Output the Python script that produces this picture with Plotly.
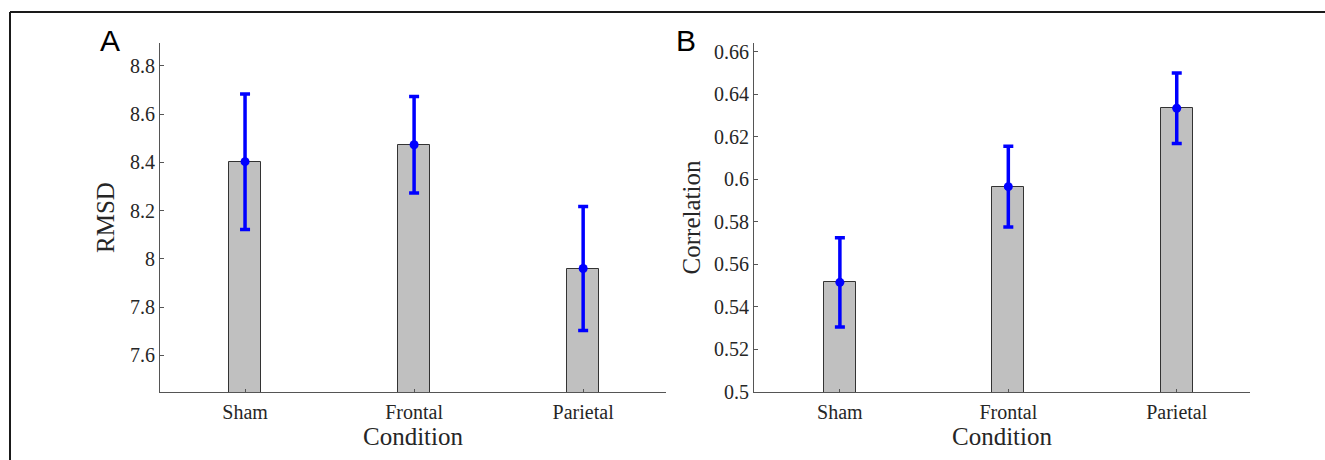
import plotly.graph_objects as go

conditions = ["Sham", "Frontal", "Parietal"]

rmsd_mean = [8.403, 8.473, 7.960]
rmsd_err = [0.281, 0.200, 0.257]

corr_mean = [0.5516, 0.5966, 0.6335]
corr_err = [0.0210, 0.0190, 0.0166]

rmsd_ticks = [7.6, 7.8, 8.0, 8.2, 8.4, 8.6, 8.8]
rmsd_ticktext = ["7.6", "7.8", "8", "8.2", "8.4", "8.6", "8.8"]
corr_ticks = [0.5, 0.52, 0.54, 0.56, 0.58, 0.6, 0.62, 0.64, 0.66]
corr_ticktext = ["0.5", "0.52", "0.54", "0.56", "0.58", "0.6", "0.62", "0.64", "0.66"]

W, H = 1325, 460
SERIF = "Liberation Serif, Times New Roman, serif"
AXC = "#555555"
TXT = "#262626"
BLUE = "#0000ff"

fig = go.Figure()

def add_panel(xa, ya, means, errs):
    fig.add_trace(go.Bar(
        x=conditions, y=means, width=0.19,
        marker=dict(color="#c0c0c0", line=dict(color="#333333", width=1)),
        xaxis=xa, yaxis=ya, showlegend=False,
    ))
    fig.add_trace(go.Scatter(
        x=conditions, y=means, mode="markers",
        marker=dict(color=BLUE, size=9, symbol="circle"),
        error_y=dict(type="data", array=errs, visible=True, color=BLUE, thickness=3.5, width=5),
        xaxis=xa, yaxis=ya, showlegend=False,
    ))

add_panel("x", "y", rmsd_mean, rmsd_err)
add_panel("x2", "y2", corr_mean, corr_err)

y_dom = [(H - 392) / H, (H - 43) / H]

common_x = dict(
    showline=True, linecolor=AXC, linewidth=1, ticks="inside", ticklen=3, tickcolor=AXC,
    tickfont=dict(family=SERIF, size=20, color=TXT), showgrid=False, zeroline=False,
    title=dict(text="Condition", font=dict(family=SERIF, size=25, color=TXT), standoff=4),
    fixedrange=True, automargin=False, ticklabelstandoff=2,
)
common_y = dict(
    showline=True, linecolor=AXC, linewidth=1, ticks="inside", ticklen=4, tickcolor=AXC,
    tickfont=dict(family=SERIF, size=20, color=TXT), showgrid=False, zeroline=False,
    domain=y_dom, automargin=False,
)

fig.update_layout(
    width=W, height=H, margin=dict(l=0, r=0, t=0, b=0, autoexpand=False),
    paper_bgcolor="white", plot_bgcolor="white",
    bargap=0,
    xaxis=dict(common_x, domain=[160 / W, 666 / W], range=[-0.503, 2.49], anchor="y"),
    yaxis=dict(common_y, range=[7.448, 8.895], tickvals=rmsd_ticks, ticktext=rmsd_ticktext,
               anchor="x",
               title=dict(text="RMSD", font=dict(family=SERIF, size=25, color=TXT), standoff=8)),
    xaxis2=dict(common_x, domain=[754 / W, 1250 / W], range=[-0.51, 2.435], anchor="y2"),
    yaxis2=dict(common_y, range=[0.5, 0.6642], tickvals=corr_ticks, ticktext=corr_ticktext,
                anchor="x2",
                title=dict(text="Correlation", font=dict(family=SERIF, size=25, color=TXT), standoff=6)),
)

# outer frame (top and left)
fig.add_shape(type="line", xref="paper", yref="paper",
              x0=10 / W, x1=1.0, y0=(H - 12) / H, y1=(H - 12) / H,
              line=dict(color="#1a1a1a", width=2))
fig.add_shape(type="line", xref="paper", yref="paper",
              x0=10 / W, x1=10 / W, y0=0, y1=(H - 12) / H,
              line=dict(color="#1a1a1a", width=2))

for lbl, cx in [("A", 110), ("B", 686)]:
    fig.add_annotation(text=lbl, xref="paper", yref="paper", x=cx / W, y=(H - 40) / H,
                       showarrow=False, xanchor="center", yanchor="middle",
                       font=dict(family="Liberation Sans, Arial, sans-serif", size=30, color="black"))

fig.write_html("out.html")
